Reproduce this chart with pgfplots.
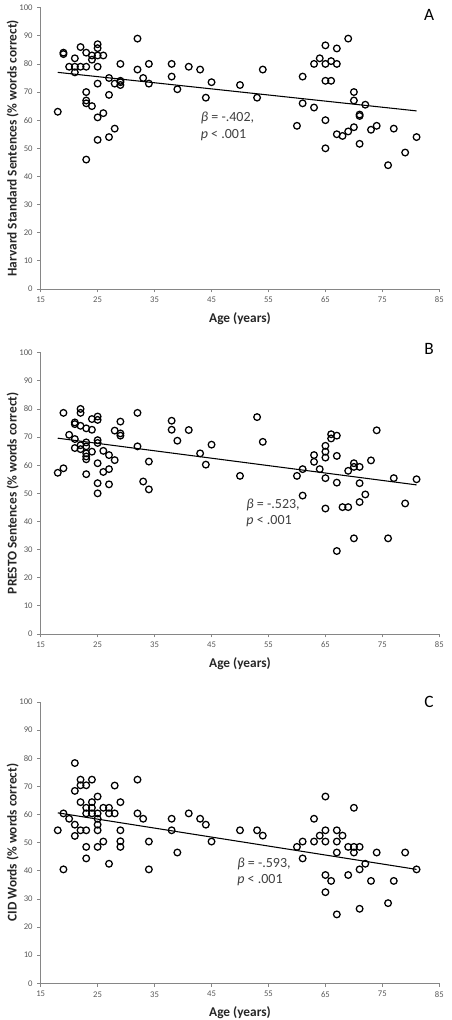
\documentclass[border=0pt]{standalone}
\usepackage{pgfplots}
\pgfplotsset{compat=1.18}
\usepackage{pgfplotstable}
\usepackage{fontspec}
\setmainfont{Carlito}
\definecolor{axgray}{HTML}{868686}
\definecolor{tickgray}{HTML}{595959}
\definecolor{txtgray}{HTML}{404040}

\pgfplotstableread{
x y
18 63
19 84
19 83.5
20 79
21 82
21 79
21 77
22 86
22 79
23 84
23 79
23 70
23 67
23 66
23 46
24 83
24 81.5
24 65
25 87
25 85.6
25 83
25 79
25 73
25 61
25 53
26 83
26 62.5
27 75
27 69
27 54
28 73
28 57
29 80
29 74
29 73.5
29 72.5
32 89
32 78
33 75
34 80
34 73
38 80
38 75.5
39 71
41 79
43 78
44 68
45 73.5
50 72.5
53 68
54 78
60 58
61 75.5
61 66
63 80
63 64.5
64 82
65 86.6
65 80
65 74
65 60
65 50
66 81
66 74
67 85.5
67 80
67 55
68 54.4
69 89
69 56
70 70
70 67
70 57.5
71 62
71 61.5
71 51.6
72 65.5
73 56.6
74 58
76 44
77 57
79 48.5
81 54
}\dataA

\pgfplotstableread{
x y
18 57.3
19 78.6
19 58.9
20 70.8
21 75.2
21 74.6
21 69.3
21 66.1
22 80
22 78.6
22 74
22 67.1
22 65.7
23 73.1
23 68.1
23 66.7
23 64.2
23 63.1
23 62.1
23 56.8
24 76.4
24 72.6
24 64.8
25 77.3
25 76.1
25 68.9
25 67.9
25 60.7
25 53.6
25 50
26 65.1
26 57.6
27 63.6
27 58.6
27 53.2
28 72.3
28 61.8
29 75.5
29 71.3
29 70.5
32 78.6
32 66.7
33 54.2
34 61.3
34 51.4
38 75.8
38 72.6
39 68.7
41 72.5
43 64.2
44 60.2
45 67.3
50 56.2
53 77.1
54 68.3
60 56.2
61 58.6
61 49.2
63 63.6
63 61.2
64 58.6
65 66.9
65 64.8
65 62.7
65 55.4
65 44.6
66 71
66 69.5
67 70.5
67 63.3
67 53.8
67 29.5
68 45.1
69 58
69 45.1
70 60.7
70 59.4
70 34
71 59.4
71 53.6
71 46.9
72 49.6
73 61.7
74 72.4
76 34
77 55.4
79 46.4
81 55
}\dataB

\pgfplotstableread{
x y
18 54.4
19 60.4
19 40.5
20 58.5
21 78.3
21 68.4
21 56.4
21 52.4
22 72.4
22 70.4
22 64.4
22 54.4
23 70.4
23 62.4
23 60.4
23 54.4
23 48.5
23 44.4
24 72.4
24 64.4
24 62.4
24 60.4
25 66.4
25 60.4
25 58.5
25 56.4
25 54.4
25 48.5
26 62.4
26 50.4
27 62.4
27 60.4
27 42.5
28 70.3
28 60.4
29 64.4
29 54.4
29 50.5
29 48.5
32 72.4
32 60.4
33 58.5
34 50.4
34 40.5
38 58.5
38 54.4
39 46.5
41 60.4
43 58.5
44 56.4
45 50.4
50 54.4
53 54.4
54 52.5
60 48.5
61 50.4
61 44.4
63 58.5
63 50.4
64 52.5
65 66.4
65 54.4
65 50.4
65 38.5
65 32.4
66 36.4
67 54.4
67 50.4
67 46.5
67 24.5
68 52.5
69 48.5
69 38.5
70 62.4
70 48.5
70 46.5
71 48.5
71 40.5
71 26.5
72 42.5
73 36.4
74 46.5
76 28.5
77 36.4
79 46.5
81 40.5
}\dataC

\pgfplotsset{
  panel/.style={
    scale only axis,
    width=299pt, height=211pt,
    anchor=south west,
    xmin=15, xmax=85, ymin=0, ymax=100,
    xtick={15,25,...,85},
    ytick={0,10,...,100},
    axis x line*=bottom,
    axis y line*=left,
    axis line style={axgray, line width=0.6pt},
    tick style={axgray, line width=0.6pt},
    tick align=outside,
    major tick length=2.5pt,
    minor tick num=0,
    tick label style={font=\fontsize{6.5}{7}\selectfont, text=tickgray},
    /pgf/number format/assume math mode=true,
    label style={font=\fontsize{10}{11}\bfseries\selectfont, text=black!85},
    xlabel={Age (years)},
    xlabel style={at={(axis description cs:0.5,0)}, anchor=center, yshift=-22pt},
    ylabel style={at={(axis description cs:-0.0702,0.5)}, anchor=center},
    clip=false,
  },
  pts/.style={only marks, mark=o, mark size=2.5pt, mark options={black, line width=0.95pt}},
  reg/.style={black, line width=0.8pt, no marks},
}
\tikzset{ann/.style={anchor=west, font=\fontsize{10.5}{11}\selectfont, text=txtgray}}

\begin{document}
\begin{tikzpicture}
\path[use as bounding box] (0,0) rectangle (338.25pt,765pt);

% Panel A
\begin{axis}[panel, at={(30.5pt,548.25pt)},
  ylabel={Harvard Standard Sentences (\% words correct)}]
\addplot[pts] table[x=x,y=y] {\dataA};
\addplot[reg] coordinates {(18,77) (81,63.3)};
\node[anchor=center, font=\fontsize{13}{14}\selectfont] at (axis cs:83.2,97.5) {A};
\node[ann] at (axis cs:42.3,60.7) {\textit{β} = -.402,};
\node[ann] at (axis cs:42.3,54.8) {\textit{p} < .001};
\end{axis}

% Panel B
\begin{axis}[panel, at={(30.5pt,289.5pt)},
  ylabel={PRESTO Sentences (\% words correct)}]
\addplot[pts] table[x=x,y=y] {\dataB};
\addplot[reg] coordinates {(18,69.6) (81,53)};
\node[anchor=center, font=\fontsize{13}{14}\selectfont] at (axis cs:83.2,101.4) {B};
\node[ann] at (axis cs:50.3,46) {\textit{β} = -.523,};
\node[ann] at (axis cs:50.3,40.1) {\textit{p} < .001};
\end{axis}

% Panel C
\begin{axis}[panel, at={(30.5pt,27.5pt)},
  ylabel={CID Words (\% words correct)}]
\addplot[pts] table[x=x,y=y] {\dataC};
\addplot[reg] coordinates {(18,60.6) (81,40.5)};
\node[anchor=center, font=\fontsize{13}{14}\selectfont] at (axis cs:83.2,100) {C};
\node[ann] at (axis cs:48.7,42.6) {\textit{β} = -.593,};
\node[ann] at (axis cs:48.7,36.7) {\textit{p} < .001};
\end{axis}
\end{tikzpicture}
\end{document}
